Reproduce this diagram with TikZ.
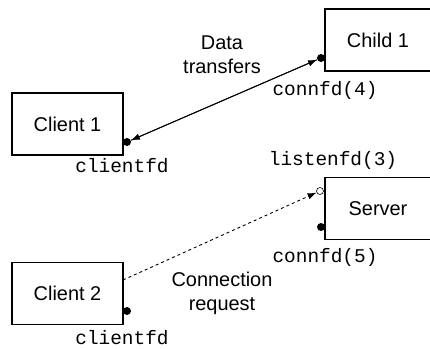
\documentclass[tikz,border=0pt]{standalone}
\usepackage{fontspec}
\setmainfont{Liberation Sans}
\setmonofont{Liberation Mono}
\usetikzlibrary{arrows.meta}
\begin{document}
\begin{tikzpicture}[x=1bp,y=-1bp,
  hostbox/.style={draw, line width=1.6bp, minimum width=111bp, minimum height=62bp, inner sep=0pt, font=\fontsize{20}{24}\selectfont},
  fdlabel/.style={font=\fontsize{19.5}{22}\ttfamily, inner sep=0pt},
  plainlabel/.style={font=\fontsize{20}{24}\selectfont, align=center, inner sep=0pt},
  fulldot/.style={circle, fill=black, minimum size=8bp, inner sep=0pt},
  opendot/.style={circle, draw, fill=white, line width=0.6bp, minimum size=7bp, inner sep=0pt},
  tip/.style={-{Latex[length=9bp,width=6.5bp]}},
  conn/.style={line width=0.9bp}]
\clip (0,0) rectangle (430,349);
\useasboundingbox (0,0) rectangle (430,349);
% boxes
\node[hostbox] (c1) at (67.5,124) {Client 1};
\node[hostbox] (c2) at (67.5,293.5) {Client 2};
\node[hostbox, minimum width=116bp] (ch) at (383,40) {};
\node[hostbox, minimum width=116bp] (sv) at (383,208.5) {};
\node[font=\fontsize{20}{24}\selectfont, inner sep=0pt] (chl) at (378,40) {Child 1};
\node[font=\fontsize{20}{24}\selectfont, inner sep=0pt] (svl) at (378,208.5) {Server};
% dots
\node[fulldot] (c1d) at (127,142) {};
\node[fulldot] (c2d) at (127,311) {};
\node[fulldot] (chd) at (321,58) {};
\node[fulldot] (svd) at (321,227) {};
\node[opendot] (svo) at (320,191) {};
% labels
\node[fdlabel] (l1) at (122,166) {clientfd};
\node[fdlabel] (l2) at (122,338) {clientfd};
\node[fdlabel] (l3) at (325,90) {connfd(4)};
\node[fdlabel] (l4) at (333,160) {listenfd(3)};
\node[fdlabel] (l5) at (325,257) {connfd(5)};
\node[plainlabel] (dt) at (222,55) {Data\\transfers};
\node[plainlabel] (cr) at (222,293.5) {Connection\\request};
% connectors
\coordinate (c2s) at (123,280);
\draw[conn, tip] (c1d) -- (chd);
\draw[conn, tip] (chd) -- (c1d);
\draw[conn, dashed, tip] (c2s) -- (svo);
\end{tikzpicture}
\end{document}
